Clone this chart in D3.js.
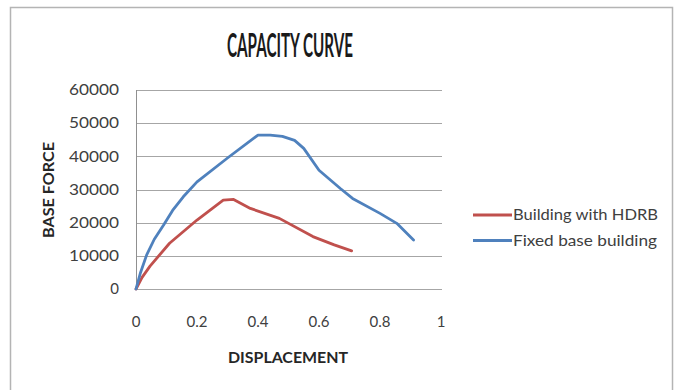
<!DOCTYPE html>
<html><head><meta charset="utf-8">
<script src="https://cdn.jsdelivr.net/npm/d3@7"></script>
<style>body{margin:0;background:#fff;}svg{display:block;}</style>
</head><body>
<script>
// ---- data ----
const seriesNames = ["Building with HDRB", "Fixed base building"];
const hdrbX = [0, 0.02, 0.046, 0.11, 0.2, 0.286, 0.32, 0.375, 0.47, 0.58, 0.65, 0.707];
const hdrbY = [0, 3500, 6900, 13800, 20800, 26800, 27000, 24300, 21300, 15800, 13300, 11500];
const fixedX = [0, 0.015, 0.035, 0.06, 0.09, 0.12, 0.155, 0.2, 0.3, 0.4, 0.44, 0.48, 0.52, 0.55, 0.6, 0.67, 0.71, 0.8, 0.855, 0.91];
const fixedY = [0, 5000, 10300, 15000, 19200, 23700, 27800, 32300, 39500, 46400, 46400, 46000, 44800, 42400, 35800, 30300, 27300, 22800, 19800, 14800];
const xTicks = [0, 0.2, 0.4, 0.6, 0.8, 1];
const yTicks = [0, 10000, 20000, 30000, 40000, 50000, 60000];
const colors = ["#C0504D", "#4F81BD"];

const W = 676, H = 390;
const font = "Lato,'Open Sans',sans-serif";
const svg = d3.select("body").append("svg").attr("width", W).attr("height", H);
svg.append("rect").attr("width", W).attr("height", H).attr("fill", "#fff");
// frame
svg.append("rect").attr("x", 10.5).attr("y", 7.5).attr("width", 662).attr("height", 390)
  .attr("fill", "#fff").attr("stroke", "#b4b4b4").attr("stroke-width", 1.5);

const x = d3.scaleLinear().domain([0, 1]).range([136, 441]);
const y = d3.scaleLinear().domain([0, 60000]).range([289, 90]);

// gridlines
svg.append("g").selectAll("line").data(yTicks).join("line")
  .attr("x1", 136).attr("x2", 442)
  .attr("y1", d => Math.round(y(d)) + 0.5).attr("y2", d => Math.round(y(d)) + 0.5)
  .attr("stroke", "#a6a6a6").attr("stroke-width", 1);
// y axis line
svg.append("line").attr("x1", 136.5).attr("x2", 136.5).attr("y1", y(60000)).attr("y2", y(0))
  .attr("stroke", "#909090");

// y tick labels
svg.append("g").selectAll("text").data(yTicks).join("text")
  .attr("x", 119).attr("y", d => y(d)).attr("dy", "0.35em")
  .attr("text-anchor", "end").attr("font-family", font).attr("font-size", 15)
  .attr("fill", "#404040")
  .attr("textLength", d => d === 0 ? null : 50).attr("lengthAdjust", "spacingAndGlyphs")
  .text(d => d);
// x tick labels
svg.append("g").selectAll("text").data(xTicks).join("text")
  .attr("x", d => x(d)).attr("y", 322).attr("dy", "0.35em")
  .attr("text-anchor", "middle").attr("font-family", font).attr("font-size", 15)
  .attr("fill", "#404040")
  .text(d => d);

// title
svg.append("text").attr("x", 290).attr("y", 57).attr("text-anchor", "middle")
  .attr("font-family", font).attr("font-weight", "bold").attr("font-size", 33)
  .attr("fill", "#1a1a1a").attr("textLength", 126).attr("lengthAdjust", "spacingAndGlyphs")
  .text("CAPACITY CURVE");
// axis titles
svg.append("text").attr("x", 288).attr("y", 363).attr("text-anchor", "middle")
  .attr("font-family", font).attr("font-weight", "bold").attr("font-size", 16)
  .attr("fill", "#262626").attr("textLength", 120).attr("lengthAdjust", "spacingAndGlyphs")
  .text("DISPLACEMENT");
svg.append("text").attr("transform", "translate(54,190) rotate(-90)").attr("text-anchor", "middle")
  .attr("font-family", font).attr("font-weight", "bold").attr("font-size", 16)
  .attr("fill", "#262626").attr("textLength", 96).attr("lengthAdjust", "spacingAndGlyphs")
  .text("BASE FORCE");

// lines
const line = d3.line().x(d => x(d[0])).y(d => y(d[1]));
const series = [d3.zip(hdrbX, hdrbY), d3.zip(fixedX, fixedY)];
svg.append("g").selectAll("path").data(series).join("path")
  .attr("d", line).attr("fill", "none")
  .attr("stroke", (d, i) => colors[i]).attr("stroke-width", 2.8)
  .attr("stroke-linejoin", "round").attr("stroke-linecap", "round");

// legend
const lg = svg.append("g").selectAll("g").data(seriesNames).join("g")
  .attr("transform", (d, i) => `translate(0,${215 + i * 25.5})`);
lg.append("line").attr("x1", 473).attr("x2", 512).attr("y1", 0).attr("y2", 0)
  .attr("stroke", (d, i) => colors[i]).attr("stroke-width", 2.8);
lg.append("text").attr("x", 513).attr("y", 0).attr("dy", "0.35em")
  .attr("font-family", font).attr("font-size", 15).attr("fill", "#404040")
  .attr("textLength", (d, i) => i === 0 ? 145 : 144).attr("lengthAdjust", "spacingAndGlyphs")
  .text(d => d);
</script>
</body></html>
